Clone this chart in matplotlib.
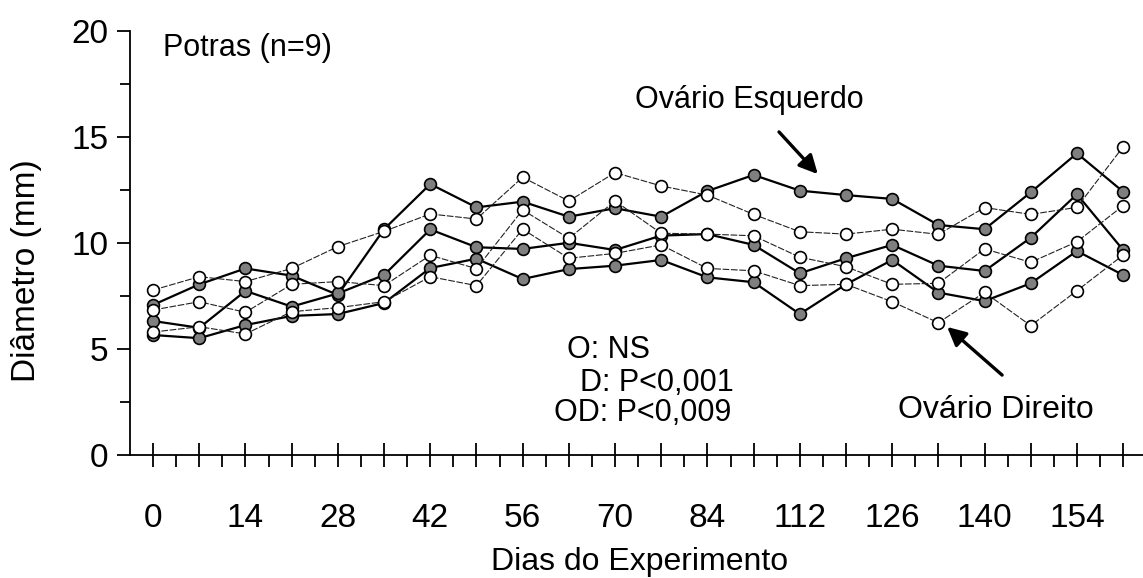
import numpy as np
import matplotlib
matplotlib.use('Agg')
import matplotlib.pyplot as plt

plt.rcParams['font.family'] = ['Liberation Sans', 'DejaVu Sans']

dias = [0, 7, 14, 21, 28, 35, 42, 49, 56, 63, 70, 77, 84,
        98, 112, 119, 126, 133, 140, 147, 154, 161]

# ovario esquerdo (cinza, linha cheia)
esq_sup = [7.08, 8.05, 8.80, 8.46, 7.55, 10.65, 12.78, 11.68, 11.95, 11.24, 11.64,
           11.24, 12.45, 13.21, 12.47, 12.26, 12.08, 10.85, 10.65, 12.39, 14.23, 12.42]
esq_med = [6.32, 6.00, 7.74, 7.00, 7.62, 8.49, 10.64, 9.80, 9.72, 10.01, 9.67,
           10.35, 10.42, 9.91, 8.57, 9.28, 9.91, 8.93, 8.68, 10.25, 12.30, 9.67]
esq_inf = [5.66, 5.51, 6.13, 6.56, 6.65, 7.17, 8.82, 9.26, 8.30, 8.77, 8.93,
           9.20, 8.38, 8.15, 6.65, 8.05, 9.20, 7.66, 7.26, 8.10, 9.62, 8.49]

# ovario direito (branco, tracejado)
dir_sup = [7.78, 8.41, 8.18, 8.80, 9.83, 10.55, 11.37, 11.13, 13.10, 11.98, 13.32,
           12.69, 12.26, 11.35, 10.53, 10.42, 10.65, 10.41, 11.67, 11.35, 11.68, 14.54]
dir_med = [6.84, 7.23, 6.73, 8.05, 8.18, 7.99, 9.42, 8.79, 11.56, 10.22, 11.98,
           10.46, 10.42, 10.34, 9.33, 8.88, 8.05, 8.10, 9.72, 9.09, 10.06, 11.76]
dir_inf = [5.80, 6.05, 5.71, 6.76, 6.95, 7.23, 8.41, 7.99, 10.65, 9.28, 9.51,
           9.91, 8.80, 8.69, 7.99, 8.05, 7.23, 6.24, 7.67, 6.10, 7.75, 9.43]

x = np.arange(len(dias))
rotulos = [str(d) if i % 2 == 0 else '' for i, d in enumerate(dias)]

fig = plt.figure(figsize=(11.43, 5.78), dpi=100)
ax = fig.add_axes([130 / 1143, 1 - 455 / 578, 1013 / 1143, 424 / 578])

for serie in (esq_sup, esq_med, esq_inf):
    ax.plot(x, serie, '-', color='black', lw=1.6, marker='o', ms=8.5,
            mfc='#7f7f7f', mec='black', mew=1.2, zorder=3)
for serie in (dir_sup, dir_med, dir_inf):
    ax.plot(x, serie, color='#222222', lw=0.8, ls=(0, (6, 1.5)), marker='o', ms=8.5,
            mfc='white', mec='black', mew=1.2, zorder=4)

ax.set_xlim(-0.5, 21.43)
ax.set_ylim(0, 20)
ax.spines['top'].set_visible(False)
ax.spines['right'].set_visible(False)
ax.spines['left'].set_linewidth(1.3)
ax.spines['bottom'].set_linewidth(1.3)

ax.set_xticks(x)
ax.set_xticklabels(rotulos)
ax.set_xticks(x[:-1] + 0.5, minor=True)
ax.set_yticks([0, 5, 10, 15, 20])
ax.set_yticks(np.arange(2.5, 20, 5), minor=True)

ax.tick_params(axis='x', which='major', direction='inout', length=17, width=1.3,
               pad=26, labelsize=24)
ax.tick_params(axis='x', which='minor', direction='out', length=8.5, width=1.3)
ax.tick_params(axis='y', which='major', direction='out', length=9.5, width=1.3,
               pad=6, labelsize=24)
ax.tick_params(axis='y', which='minor', direction='out', length=7, width=1.3)

ax.set_xlabel('Dias do Experimento', fontsize=23)
ax.set_ylabel('Diâmetro (mm)', fontsize=24)
ax.xaxis.set_label_coords(0.503, -0.216)
ax.yaxis.set_label_coords(-0.087, 0.436)

ax.text(0.22, 19.2, 'Potras (n=9)', fontsize=22, va='center', ha='left')
ax.text(12.9, 16.75, 'Ovário Esquerdo', fontsize=22, va='center', ha='center')
ax.text(18.25, 2.12, 'Ovário Direito', fontsize=23, va='center', ha='center')

ax.text(8.97, 4.95, 'O: NS', fontsize=22, va='center', ha='left')
ax.text(9.25, 3.40, 'D: P<0,001', fontsize=22, va='center', ha='left')
ax.text(8.67, 1.98, 'OD: P<0,009', fontsize=22, va='center', ha='left')

seta = dict(arrowstyle='-|>', lw=2.4, color='black', mutation_scale=28,
            shrinkA=0, shrinkB=0)
ax.annotate('', xy=(14.39, 13.25), xytext=(13.55, 15.24), arrowprops=seta)
ax.annotate('', xy=(17.19, 6.04), xytext=(18.38, 3.77), arrowprops=seta)

fig.savefig('out.png', dpi=100)
